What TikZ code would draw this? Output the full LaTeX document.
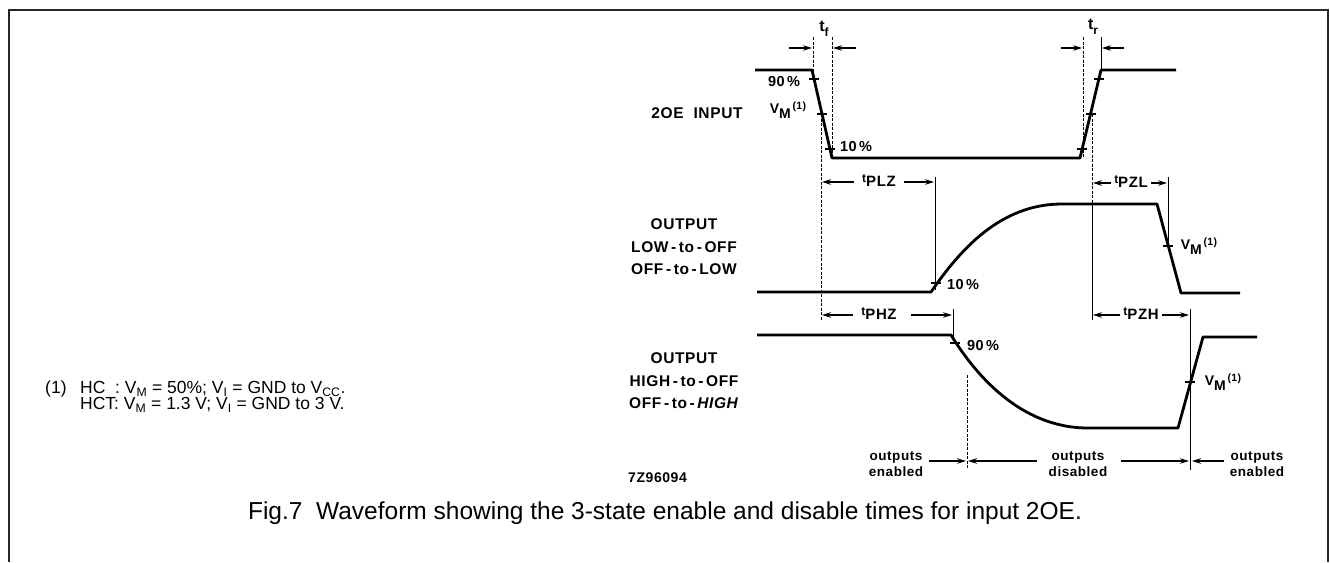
\documentclass[tikz,border=0pt]{standalone}
\usepackage{fontspec}
\setmainfont{Liberation Sans}
\newfontfamily\scanfont[LetterSpace=4]{Liberation Sans}
\usetikzlibrary{arrows.meta}
\newcommand{\tlab}[1]{{\fontsize{12}{12}\selectfont t}\raisebox{-4pt}{\fontsize{15}{15}\selectfont #1}}
\newcommand{\vmlab}{{\fontsize{14}{14}\selectfont V}\raisebox{-4.5pt}{\fontsize{14}{14}\selectfont M}\raisebox{4.5pt}{\fontsize{10.5}{10.5}\selectfont\,(1)}}
\newcommand{\tickat}[2]{\draw[tickmark] ({#1-5},#2) -- ({#1+5},#2);}
\begin{document}
\begin{tikzpicture}[x=1pt,y=-1pt,
  wave/.style={line width=2.8pt, line join=round},
  refline/.style={line width=1pt},
  dashref/.style={line width=0.9pt, dash pattern=on 3pt off 1.5pt},
  tickmark/.style={line width=1.3pt},
  dimarrow/.style={line width=1.2pt, -{Stealth[length=9pt,width=5.5pt]}},
  lbl/.style={font=\scanfont\bfseries\fontsize{15.5}{22.5}\selectfont, align=center, inner sep=0pt},
  pct/.style={font=\scanfont\bfseries\fontsize{14.5}{14.5}\selectfont, inner sep=0pt},
  small/.style={font=\scanfont\bfseries, inner sep=0pt},
  enlbl/.style={font=\scanfont\bfseries\fontsize{13.5}{16}\selectfont, align=center, inner sep=0pt},
  note/.style={font=\fontsize{17.5}{16.5}\selectfont, inner sep=0pt, anchor=north west, align=left},
]
\useasboundingbox (0,0) rectangle (1330,562);
% frame
\coordinate (f1) at (9,562); \coordinate (f2) at (9,10);
\coordinate (f3) at (1328,10); \coordinate (f4) at (1328,562);
\draw[line width=2pt, black!85] (f1) -- (f2) -- (f3) -- (f4);

% waveform corner points
\coordinate (a1) at (755,70);  \coordinate (a2) at (812,70);
\coordinate (a3) at (832,158); \coordinate (a4) at (1080,158);
\coordinate (a5) at (1101,70); \coordinate (a6) at (1176,70);
\coordinate (b1) at (757,292); \coordinate (b2) at (931,292);
\coordinate (b3) at (1062,204); \coordinate (b4) at (1157,204);
\coordinate (b5) at (1181,293); \coordinate (b6) at (1240,293);
\coordinate (c1) at (757,335); \coordinate (c2) at (951,335);
\coordinate (c3) at (1088,428); \coordinate (c4) at (1178,428);
\coordinate (c5) at (1203,337); \coordinate (c6) at (1257,337);

\draw[wave] (a1) -- (a2) -- (a3) -- (a4) -- (a5) -- (a6);
\draw[wave] (b1) -- (b2) .. controls (960,250) and (1000,204) .. (b3) -- (b4) -- (b5) -- (b6);
\draw[wave] (c1) -- (c2) .. controls (975,374) and (1020,428) .. (c3) -- (c4) -- (c5) -- (c6);

% ticks
\tickat{814}{79} \tickat{822}{114} \tickat{830}{149}
\tickat{1082}{149} \tickat{1091}{114} \tickat{1099}{79}
\tickat{936}{283} \tickat{1168}{246}
\tickat{955}{343} \tickat{1190}{382}

% reference lines
\draw[dashref] (813,37) -- (813,72);
\draw[dashref] (832,37) -- (832,158);
\draw[dashref] (821,114) -- (821,320);
\draw[refline] (935,177) -- (935,290);
\draw[refline] (953,309) -- (953,341);
\draw[dashref] (967,375) -- (967,468);
\draw[dashref] (1083,37) -- (1083,158);
\draw[refline] (1101,37) -- (1101,72);
\draw[dashref] (1092,114) -- (1092,200);
\draw[refline] (1092,200) -- (1092,320);
\draw[refline] (1168,177) -- (1168,247);
\draw[refline] (1190,309) -- (1190,470);

% tf / tr
\node[small] (tf) at (824,29) {{\fontsize{16}{16}\selectfont t}\raisebox{-4.5pt}{\fontsize{12}{12}\selectfont f}};
\coordinate (tfa) at (789,48); \coordinate (tfb) at (812,48);
\coordinate (tfc) at (856,48); \coordinate (tfd) at (833,48);
\draw[dimarrow] (tfa) -- (tfb); \draw[dimarrow] (tfc) -- (tfd);
\node[small] (tr) at (1093,27) {{\fontsize{16}{16}\selectfont t}\raisebox{-4.5pt}{\fontsize{12}{12}\selectfont r}};
\coordinate (tra) at (1061,48); \coordinate (trb) at (1082,48);
\coordinate (trc) at (1124,48); \coordinate (trd) at (1102,48);
\draw[dimarrow] (tra) -- (trb); \draw[dimarrow] (trc) -- (trd);

% tPLZ
\node[small] (tplz) at (879,181) {\tlab{PLZ}};
\coordinate (p1) at (822,182); \coordinate (p2) at (934,182);
\draw[dimarrow] (tplz.west) ++(-8,1) -- (p1);
\draw[dimarrow] (tplz.east) ++(8,1) -- (p2);
% tPZL
\node[small] (tpzl) at (1131,182) {\tlab{PZL}};
\coordinate (q1) at (1093,183); \coordinate (q2) at (1167,183);
\draw[dimarrow] (tpzl.west) ++(-3,1) -- (q1);
\draw[dimarrow] (tpzl.east) ++(3,1) -- (q2);
% tPHZ
\node[small] (tphz) at (879,314) {\tlab{PHZ}};
\coordinate (r1) at (822,315); \coordinate (r2) at (952,315);
\draw[dimarrow] (tphz.west) ++(-8,1) -- (r1);
\draw[dimarrow] (tphz.east) ++(14,1) -- (r2);
% tPZH
\node[small] (tpzh) at (1141,314) {\tlab{PZH}};
\coordinate (s1) at (1093,315); \coordinate (s2) at (1189,315);
\draw[dimarrow] (tpzh.west) ++(-3,1) -- (s1);
\draw[dimarrow] (tpzh.east) ++(3,1) -- (s2);

% level labels
\node[pct] (n90a) at (784,82) {90\,\%};
\node[small] (vm1) at (788,110) {\vmlab};
\node[pct] (n10a) at (856,147) {10\,\%};
\node[pct] (n10b) at (963,285) {10\,\%};
\node[small] (vm2) at (1199,246) {\vmlab};
\node[pct] (n90b) at (983,346) {90\,\%};
\node[small] (vm3) at (1223,382) {\vmlab};

% signal labels
\node[lbl] (in) at (697,113) {2OE\ \ INPUT};
\node[lbl] (outl) at (684,247) {OUTPUT\\LOW\,-\,to\,-\,OFF\\OFF\,-\,to\,-\,LOW};
\node[lbl] (outh) at (684,381) {OUTPUT\\HIGH\,-\,to\,-\,OFF\\OFF\,-\,to\,-\,\textit{HIGH}};
\node[lbl, anchor=west, font=\scanfont\bfseries\fontsize{14}{14}\selectfont] (code) at (628,478) {7Z96094};

% outputs enabled / disabled
\node[enlbl] (oe1) at (896,464) {outputs\\enabled};
\node[enlbl] (od) at (1078,464) {outputs\\disabled};
\node[enlbl] (oe2) at (1257,464) {outputs\\enabled};
\coordinate (e1) at (966,461); \coordinate (e2) at (968,461);
\coordinate (e3) at (1189,461); \coordinate (e4) at (1192,461);
\draw[dimarrow] (oe1.east) ++(6,-3) -- (e1);
\draw[dimarrow] (od.west) ++(-12,-3) -- (e2);
\draw[dimarrow] (od.east) ++(14,-3) -- (e3);
\draw[dimarrow] (oe2.west) ++(-6,-3) -- (e4);

% footnote
\node[note] (fn0) at (45,381) {(1)};
\node[note] (fn1) at (80,381) {HC\ \ : V\textsubscript{M} = 50\%; V\textsubscript{I} = GND to V\textsubscript{CC}.\\HCT: V\textsubscript{M} = 1.3 V; V\textsubscript{I} = GND to 3 V.};

% caption
\node[inner sep=0pt, font=\fontsize{24.5}{26}\selectfont] (cap) at (665,513) {Fig.7\ \ Waveform showing the 3-state enable and disable times for input 2OE.};
\end{tikzpicture}
\end{document}
